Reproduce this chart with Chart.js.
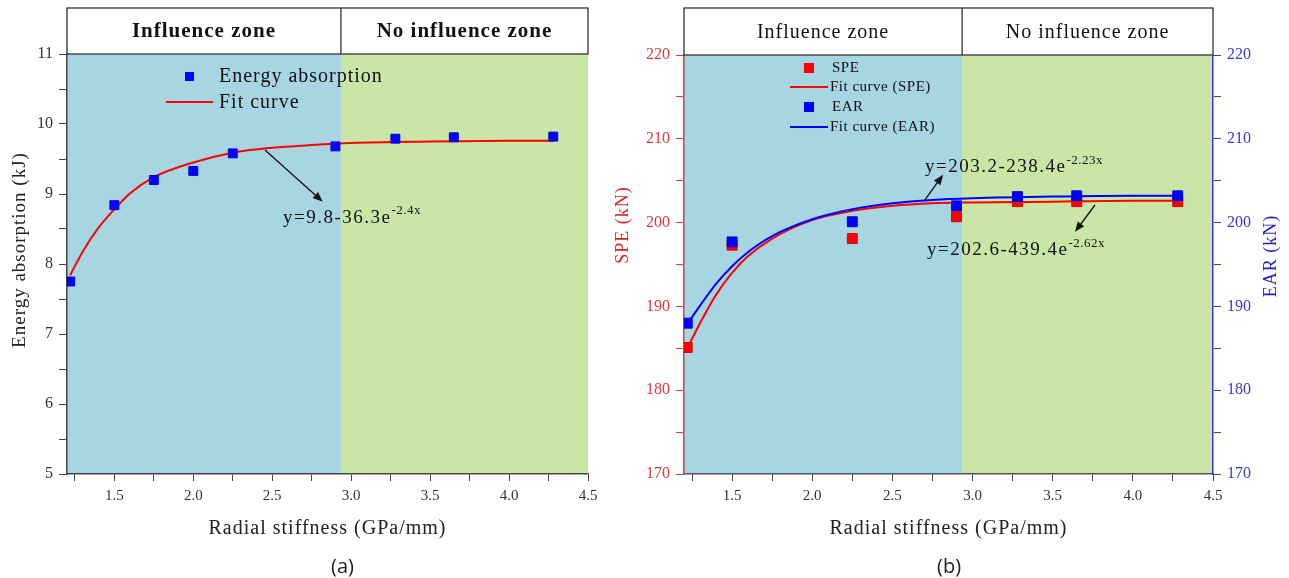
<!DOCTYPE html>
<html lang="en">
<head>
<meta charset="UTF-8">
<title>Radial stiffness</title>
<script src="https://cdn.jsdelivr.net/npm/chart.js"></script>
<style>
  body { margin: 0; background: #fff; width: 1289px; height: 578px; position: relative; overflow: hidden; }
  canvas { position: absolute; top: 0; }
  #chartA { left: 0; }
  #chartB { left: 605px; }
  .tag { position: absolute; top: 552px; font: 20px "Open Sans", "Liberation Sans", sans-serif; color: #222; }
</style>
</head>
<body>
<canvas id="chartA" width="605" height="578" style="width:605px;height:578px"></canvas>
<canvas id="chartB" width="684" height="578" style="width:684px;height:578px"></canvas>
<div class="tag" style="left:331px">(a)</div>
<div class="tag" style="left:937px">(b)</div>
<script>
// ---- data (a) ----
const stiffness = [1.22, 1.5, 1.75, 2.0, 2.25, 2.9, 3.28, 3.65, 4.28]
const energy = [7.75, 8.84, 9.2, 9.33, 9.58, 9.68, 9.79, 9.81, 9.82]
const fitX = [1.22, 1.3, 1.4, 1.5, 1.6, 1.75, 2.0, 2.25, 2.5, 2.75, 3.0, 3.5, 4.0, 4.28]
const energyFit = [7.84, 8.18, 8.52, 8.78, 9.01, 9.24, 9.45, 9.59, 9.66, 9.70, 9.73, 9.75, 9.76, 9.76]

// ---- data (b) ----
const stiffnessB = [1.22, 1.5, 2.25, 2.9, 3.28, 3.65, 4.28]
const spe = [185.1, 197.3, 198.1, 200.7, 202.5, 202.5, 202.5]
const ear = [188.0, 197.7, 200.1, 202.0, 203.1, 203.2, 203.2]
const speFit = [185.0, 188.0, 191.4, 194.0, 196.0, 198.1, 200.3, 201.4, 202.0, 202.3, 202.4, 202.5, 202.6, 202.6]
const earFit = [187.9, 190.1, 192.7, 194.8, 196.5, 198.4, 200.4, 201.6, 202.3, 202.7, 202.9, 203.1, 203.2, 203.2]

// ---- ticks / zones ----
const xTicks = [1.25, 1.5, 1.75, 2.0, 2.25, 2.5, 2.75, 3.0, 3.25, 3.5, 3.75, 4.0, 4.25, 4.5]
const yTicksA = [5, 5.5, 6, 6.5, 7, 7.5, 8, 8.5, 9, 9.5, 10, 10.5, 11]
const yTicksB = [170, 175, 180, 185, 190, 195, 200, 205, 210, 215, 220]
const zoneEdge = 2.935
const zoneNames = ['Influence zone', 'No influence zone']
const xTitle = 'Radial stiffness (GPa/mm)'

const serif = '"Liberation Serif", "Times New Roman", serif'
const blueZone = '#a7d5e2'
const greenZone = '#c9e6a6'

function pts(xs, ys) { return xs.map((x, i) => ({x: x, y: ys[i]})) }
function setTicks(list) { return s => { s.ticks = list.map(v => ({value: v})) } }
function halfLabel(v) { return Math.round(v * 4) % 2 === 0 ? v.toFixed(1) : '' }
function intLabel(v) { return Number.isInteger(v) ? v : '' }

function arrow(ctx, x1, y1, x2, y2) {
  const ang = Math.atan2(y2 - y1, x2 - x1)
  ctx.save()
  ctx.strokeStyle = '#111'; ctx.fillStyle = '#111'; ctx.lineWidth = 1.3
  ctx.beginPath(); ctx.moveTo(x1, y1); ctx.lineTo(x2 - 6 * Math.cos(ang), y2 - 6 * Math.sin(ang)); ctx.stroke()
  ctx.beginPath()
  ctx.moveTo(x2, y2)
  ctx.lineTo(x2 - 10 * Math.cos(ang) + 4 * Math.sin(ang), y2 - 10 * Math.sin(ang) - 4 * Math.cos(ang))
  ctx.lineTo(x2 - 10 * Math.cos(ang) - 4 * Math.sin(ang), y2 - 10 * Math.sin(ang) + 4 * Math.cos(ang))
  ctx.closePath(); ctx.fill()
  ctx.restore()
}

function equation(ctx, x, y, main, sup, size) {
  ctx.save()
  ctx.fillStyle = '#111'; ctx.textAlign = 'left'; ctx.textBaseline = 'alphabetic'
  ctx.letterSpacing = '1.5px'
  ctx.font = size + 'px ' + serif
  ctx.fillText(main, x, y)
  const w = ctx.measureText(main).width
  ctx.letterSpacing = '0.5px'
  ctx.font = Math.round(size * 0.68) + 'px ' + serif
  ctx.fillText(sup, x + w, y - size * 0.45)
  ctx.restore()
}

function vtitle(ctx, text, x, y, color, size) {
  ctx.save()
  ctx.translate(x, y); ctx.rotate(-Math.PI / 2)
  ctx.fillStyle = color; ctx.font = size + 'px ' + serif
  ctx.letterSpacing = '1px'
  ctx.textAlign = 'center'; ctx.textBaseline = 'middle'
  ctx.fillText(text, 0, 0)
  ctx.restore()
}

function htitle(chart) {
  const {ctx, chartArea: a} = chart
  ctx.save()
  ctx.fillStyle = '#222'; ctx.font = '20px ' + serif
  ctx.letterSpacing = '1px'
  ctx.textAlign = 'center'; ctx.textBaseline = 'middle'
  ctx.fillText(xTitle, (a.left + a.right) / 2, 529)
  ctx.restore()
}

// zone bands + header box
function zonesPlugin(headerFont) {
  return {
    id: 'zones',
    beforeDraw(chart) {
      const {ctx, chartArea: a} = chart
      const xb = chart.scales.x.getPixelForValue(zoneEdge)
      ctx.save()
      ctx.fillStyle = blueZone
      ctx.fillRect(a.left, a.top, xb - a.left, a.bottom - a.top)
      ctx.fillStyle = greenZone
      ctx.fillRect(xb, a.top, a.right - xb, a.bottom - a.top)
      ctx.restore()
    },
    afterDraw(chart) {
      const {ctx, chartArea: a} = chart
      const xb = chart.scales.x.getPixelForValue(zoneEdge)
      const top = 8
      ctx.save()
      ctx.fillStyle = '#fff'
      ctx.fillRect(a.left, top, a.right - a.left, a.top - top)
      ctx.strokeStyle = '#333'; ctx.lineWidth = 1.3
      ctx.strokeRect(a.left, top, a.right - a.left, a.top - top)
      ctx.beginPath(); ctx.moveTo(xb, top); ctx.lineTo(xb, a.top); ctx.stroke()
      ctx.fillStyle = '#111'; ctx.font = headerFont
      ctx.letterSpacing = '1px'
      ctx.textAlign = 'center'; ctx.textBaseline = 'middle'
      ctx.fillText(zoneNames[0], (a.left + xb) / 2, (top + a.top) / 2 + 1)
      ctx.fillText(zoneNames[1], (xb + a.right) / 2, (top + a.top) / 2 + 1)
      ctx.restore()
      htitle(chart)
    }
  }
}

const axisA = '#444'

new Chart(document.getElementById('chartA'), {
  type: 'scatter',
  data: {
    datasets: [{
      label: 'Energy absorption',
      data: pts(stiffness, energy),
      pointStyle: 'rect', pointRadius: 6.3, pointHoverRadius: 6.3,
      backgroundColor: '#0000ff', borderColor: '#0000cc', borderWidth: 1
    }, {
      label: 'Fit curve',
      data: pts(fitX, energyFit),
      showLine: true, pointRadius: 0, borderColor: '#ff0000', borderWidth: 2,
      cubicInterpolationMode: 'monotone', fill: false
    }]
  },
  options: {
    responsive: false, animation: false,
    layout: { padding: { top: 54, right: 17, left: 0, bottom: 0 } },
    plugins: { legend: { display: false }, tooltip: { enabled: false } },
    scales: {
      x: {
        type: 'linear', min: 1.2, max: 4.5,
        afterBuildTicks: setTicks(xTicks),
        afterFit: s => { s.height = 104 },
        grid: { drawOnChartArea: false, tickLength: 7, tickColor: axisA },
        border: { color: axisA, width: 1.5 },
        ticks: { autoSkip: false, maxRotation: 0, padding: 6, color: '#333', font: { family: serif, size: 15 }, callback: halfLabel }
      },
      y: {
        min: 5, max: 11,
        afterBuildTicks: setTicks(yTicksA),
        afterFit: s => { s.width = 67 },
        grid: { drawOnChartArea: false, tickLength: 8, tickColor: axisA },
        border: { color: axisA, width: 1.5 },
        ticks: { autoSkip: false, padding: 6, color: '#333', font: { family: serif, size: 16 }, callback: intLabel }
      }
    }
  },
  plugins: [zonesPlugin('bold 21px ' + serif), {
    id: 'notesA',
    afterDatasetsDraw(chart) {
      const {ctx, chartArea: a, scales: {x, y}} = chart
      // legend
      ctx.save()
      ctx.fillStyle = '#0000ff'
      ctx.fillRect(a.left + 118, a.top + 18, 9, 9)
      ctx.strokeStyle = '#ff0000'; ctx.lineWidth = 2
      ctx.beginPath(); ctx.moveTo(a.left + 99, a.top + 48); ctx.lineTo(a.left + 146, a.top + 48); ctx.stroke()
      ctx.fillStyle = '#111'; ctx.font = '20px ' + serif; ctx.textBaseline = 'middle'
      ctx.letterSpacing = '1px'
      ctx.fillText('Energy absorption', a.left + 152, a.top + 23)
      ctx.fillText('Fit curve', a.left + 152, a.top + 49)
      ctx.restore()
      arrow(ctx, x.getPixelForValue(2.454), y.getPixelForValue(9.63), x.getPixelForValue(2.82), y.getPixelForValue(8.89))
      equation(ctx, x.getPixelForValue(2.568), y.getPixelForValue(8.59), 'y=9.8-36.3e', '-2.4x', 19)
    },
    afterDraw(chart) {
      vtitle(chart.ctx, 'Energy absorption (kJ)', 20, 250, '#222', 19)
    }
  }]
})

const redAxis = '#dc3c3c'
const blueAxis = '#3a3ad0'

new Chart(document.getElementById('chartB'), {
  type: 'scatter',
  data: {
    datasets: [{
      label: 'EAR',
      data: pts(stiffnessB, ear),
      pointStyle: 'rect', pointRadius: 7, pointHoverRadius: 7,
      backgroundColor: '#0000ff', borderColor: '#0000cc', borderWidth: 1
    }, {
      label: 'SPE',
      data: pts(stiffnessB, spe),
      pointStyle: 'rect', pointRadius: 7, pointHoverRadius: 7,
      backgroundColor: '#ff0000', borderColor: '#dd0000', borderWidth: 1
    }, {
      label: 'Fit curve (EAR)',
      data: pts(fitX, earFit),
      showLine: true, pointRadius: 0, borderColor: '#0000ff', borderWidth: 2,
      cubicInterpolationMode: 'monotone', fill: false
    }, {
      label: 'Fit curve (SPE)',
      data: pts(fitX, speFit),
      showLine: true, pointRadius: 0, borderColor: '#ff0000', borderWidth: 2,
      cubicInterpolationMode: 'monotone', fill: false
    }]
  },
  options: {
    responsive: false, animation: false,
    layout: { padding: { top: 55, right: 0, left: 0, bottom: 0 } },
    plugins: { legend: { display: false }, tooltip: { enabled: false } },
    scales: {
      x: {
        type: 'linear', min: 1.2, max: 4.5,
        afterBuildTicks: setTicks(xTicks),
        afterFit: s => { s.height = 104 },
        grid: { drawOnChartArea: false, tickLength: 7, tickColor: axisA },
        border: { color: '#555', width: 1.5 },
        ticks: { autoSkip: false, maxRotation: 0, padding: 6, color: '#333', font: { family: serif, size: 15 }, callback: halfLabel }
      },
      y: {
        position: 'left', min: 170, max: 220,
        afterBuildTicks: setTicks(yTicksB),
        afterFit: s => { s.width = 79 },
        grid: { drawOnChartArea: false, tickLength: 8, tickColor: redAxis },
        border: { color: redAxis, width: 1.5 },
        ticks: { autoSkip: false, padding: 6, color: redAxis, font: { family: serif, size: 16 }, callback: v => v % 10 === 0 ? v : '' }
      },
      y2: {
        position: 'right', min: 170, max: 220,
        afterBuildTicks: setTicks(yTicksB),
        afterFit: s => { s.width = 76 },
        grid: { drawOnChartArea: false, tickLength: 8, tickColor: blueAxis },
        border: { color: blueAxis, width: 1.5 },
        ticks: { autoSkip: false, padding: 6, color: blueAxis, font: { family: serif, size: 16 }, callback: v => v % 10 === 0 ? v : '' }
      }
    }
  },
  plugins: [zonesPlugin('20px ' + serif), {
    id: 'notesB',
    afterDatasetsDraw(chart) {
      const {ctx, chartArea: a, scales: {x, y}} = chart
      // legend
      const lx = a.left, ty = a.top
      const rows = [
        {t: 'SPE', c: '#ff0000', sq: true, yy: 13},
        {t: 'Fit curve (SPE)', c: '#ff0000', sq: false, yy: 32},
        {t: 'EAR', c: '#0000ff', sq: true, yy: 52},
        {t: 'Fit curve (EAR)', c: '#0000ff', sq: false, yy: 72}
      ]
      ctx.save()
      ctx.font = '15px ' + serif; ctx.textBaseline = 'middle'
      ctx.letterSpacing = '0.5px'
      rows.forEach(r => {
        if (r.sq) {
          ctx.fillStyle = r.c
          ctx.fillRect(lx + 120, ty + r.yy - 5, 10, 10)
        } else {
          ctx.strokeStyle = r.c; ctx.lineWidth = 2
          ctx.beginPath(); ctx.moveTo(lx + 106, ty + r.yy); ctx.lineTo(lx + 144, ty + r.yy); ctx.stroke()
        }
        ctx.fillStyle = '#111'
        ctx.fillText(r.t, lx + (r.sq ? 148 : 146), ty + r.yy)
      })
      ctx.restore()
      arrow(ctx, x.getPixelForValue(2.703), y.getPixelForValue(202.7), x.getPixelForValue(2.816), y.getPixelForValue(205.7))
      equation(ctx, x.getPixelForValue(2.703), y.getPixelForValue(206.0), 'y=203.2-238.4e', '-2.23x', 19)
      arrow(ctx, x.getPixelForValue(3.764), y.getPixelForValue(202.1), x.getPixelForValue(3.639), y.getPixelForValue(198.9))
      equation(ctx, x.getPixelForValue(2.716), y.getPixelForValue(196.1), 'y=202.6-439.4e', '-2.62x', 19)
    },
    afterDraw(chart) {
      vtitle(chart.ctx, 'SPE (kN)', 18, 225, '#e02020', 18)
      vtitle(chart.ctx, 'EAR (kN)', 666, 256, '#2020d0', 18)
    }
  }]
})
</script>
</body>
</html>
